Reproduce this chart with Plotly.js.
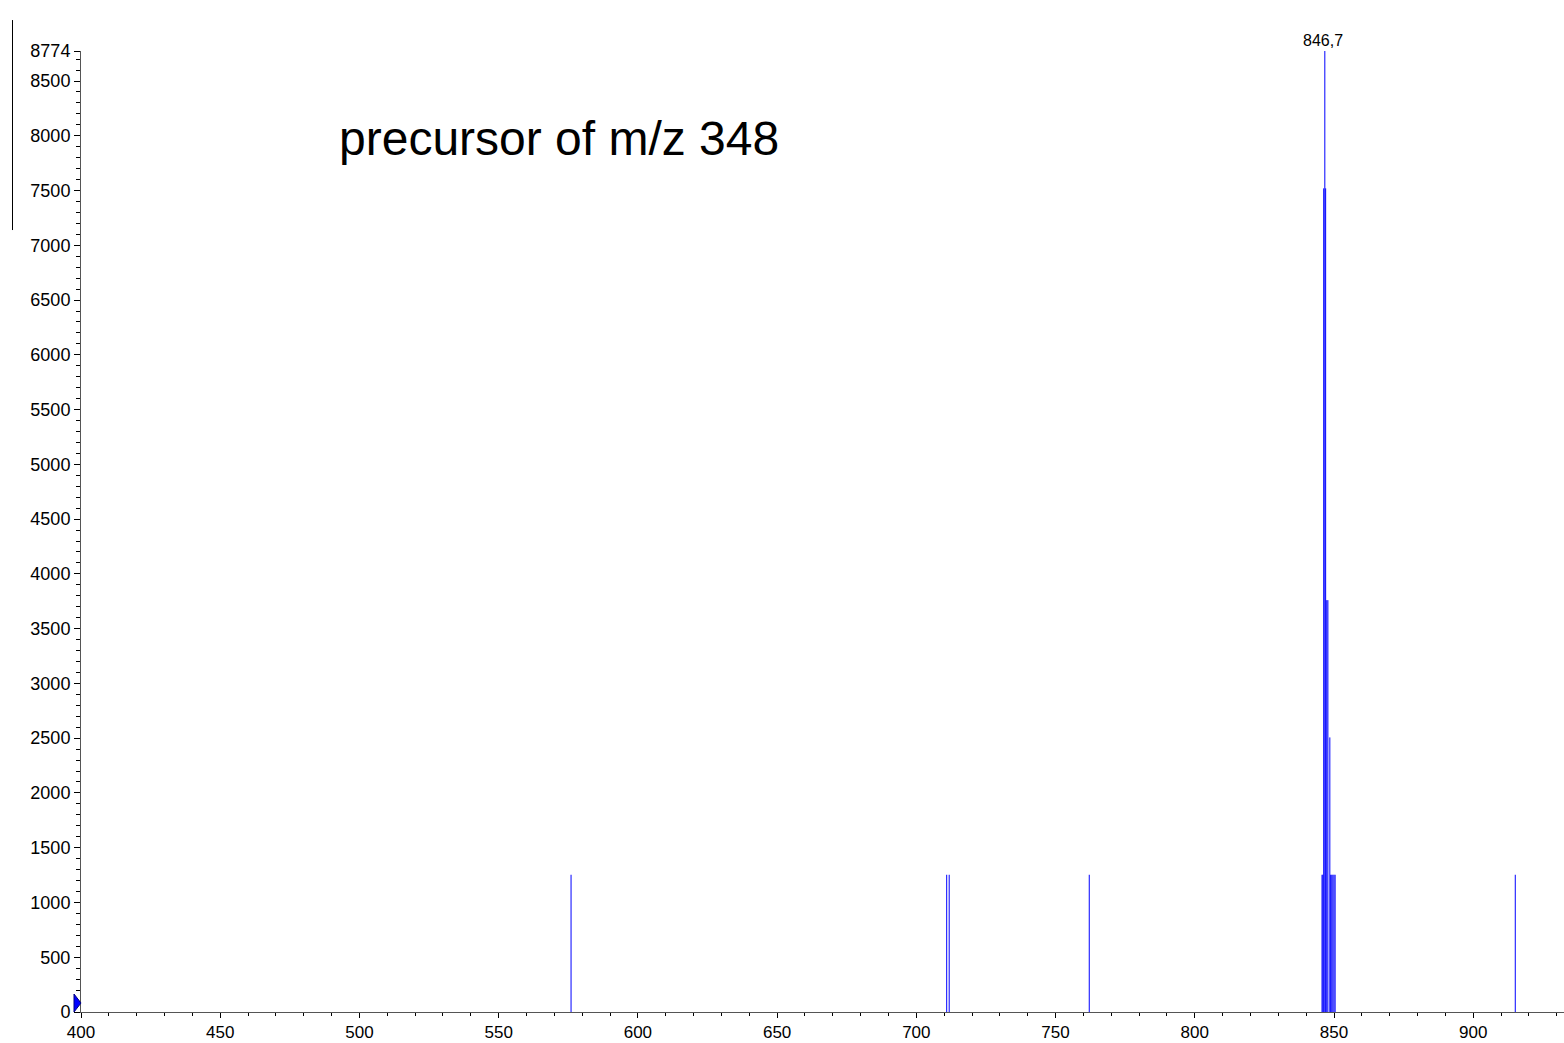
<!DOCTYPE html>
<html>
<head>
<meta charset="utf-8">
<script src="https://cdn.plot.ly/plotly-3.0.1.min.js"></script>
<style>html,body{margin:0;padding:0;background:#fff;}#chart{width:1564px;height:1043px;}</style>
</head>
<body>
<div id="chart"></div>
<script>
// m/z values of the centroid sticks
const mz = [576.0, 710.9, 711.8, 762.1,
  845.7, 846.0, 846.3, 846.7, 847.0, 847.4, 847.8, 848.5, 848.8, 849.2, 849.6, 850.0, 850.4,
  915.1];
// intensities (counts)
const intensity = [1253, 1253, 1253, 1253,
  1253, 1253, 7520, 8774, 7520, 3760, 3760, 2507, 1253, 1253, 1253, 1253, 1253,
  1253];
const basePeakMz = 846.7;
const basePeakIntensity = 8774;
const yTickVals = [0, 500, 1000, 1500, 2000, 2500, 3000, 3500, 4000, 4500, 5000, 5500, 6000, 6500, 7000, 7500, 8000, 8500, 8774];
const xTickVals = [400, 450, 500, 550, 600, 650, 700, 750, 800, 850, 900];
const titleText = "precursor of m/z 348";

const sx = [], sy = [];
for (let i = 0; i < mz.length; i++) {
  sx.push(mz[i], mz[i], null);
  sy.push(0, intensity[i], null);
}

const font = "Liberation Sans, Arial, sans-serif";

const traces = [
  {x: sx, y: sy, type: 'scatter', mode: 'lines', line: {color: '#0000FF', width: 1}, hoverinfo: 'skip', showlegend: false}
];

const layout = {
  width: 1564, height: 1043,
  margin: {l: 81, r: 0, t: 51, b: 31, pad: 0},
  paper_bgcolor: '#fff', plot_bgcolor: '#fff',
  font: {family: font, size: 18, color: '#000'},
  showlegend: false,
  xaxis: {
    range: [400, 932.6], autorange: false,
    tickmode: 'array', tickvals: xTickVals, ticktext: xTickVals.map(String),
    ticks: 'outside', ticklen: 5, tickwidth: 1, tickcolor: '#000',
    minor: {dtick: 10, tick0: 400, ticks: 'outside', ticklen: 3, tickcolor: '#000', showgrid: false},
    showgrid: false, zeroline: false,
    showline: true, linecolor: '#555', linewidth: 1,
    tickfont: {family: font, size: 17, color: '#000'},
    automargin: false, fixedrange: true
  },
  yaxis: {
    range: [0, basePeakIntensity], autorange: false,
    tickmode: 'array', tickvals: yTickVals, ticktext: yTickVals.map(String),
    ticks: 'outside', ticklen: 6, tickwidth: 1, tickcolor: '#000',
    minor: {dtick: 100, tick0: 0, ticks: 'outside', ticklen: 4, tickcolor: '#000', showgrid: false},
    showgrid: false, zeroline: false,
    showline: true, linecolor: '#555', linewidth: 1,
    tickfont: {family: font, size: 18, color: '#000'},
    automargin: false, fixedrange: true
  },
  annotations: [
    {x: basePeakMz, y: basePeakIntensity, xref: 'x', yref: 'y', text: String(basePeakMz).replace('.', ','),
     showarrow: false, yanchor: 'bottom', xanchor: 'center', xshift: -2, font: {family: font, size: 16, color: '#000'}},
    {x: 0.322, y: 0.909, xref: 'paper', yref: 'paper', text: titleText, showarrow: false,
     xanchor: 'center', yanchor: 'middle', font: {family: font, size: 48, color: '#000'}}
  ],
  shapes: [
    {type: 'line', xref: 'paper', yref: 'paper', x0: -0.04619, x1: -0.04619, y0: 1.0322, y1: 0.8137, line: {color: '#000', width: 1}},
    {type: 'path', xref: 'paper', yref: 'paper', xsizemode: 'pixel', ysizemode: 'pixel', xanchor: 0, yanchor: 0,
     path: 'M -7 0 L -7 18 L 0 9 Z', fillcolor: '#0000FF', line: {color: '#000080', width: 1}}
  ]
};

Plotly.newPlot('chart', traces, layout, {displayModeBar: false, staticPlot: true});
</script>
</body>
</html>
